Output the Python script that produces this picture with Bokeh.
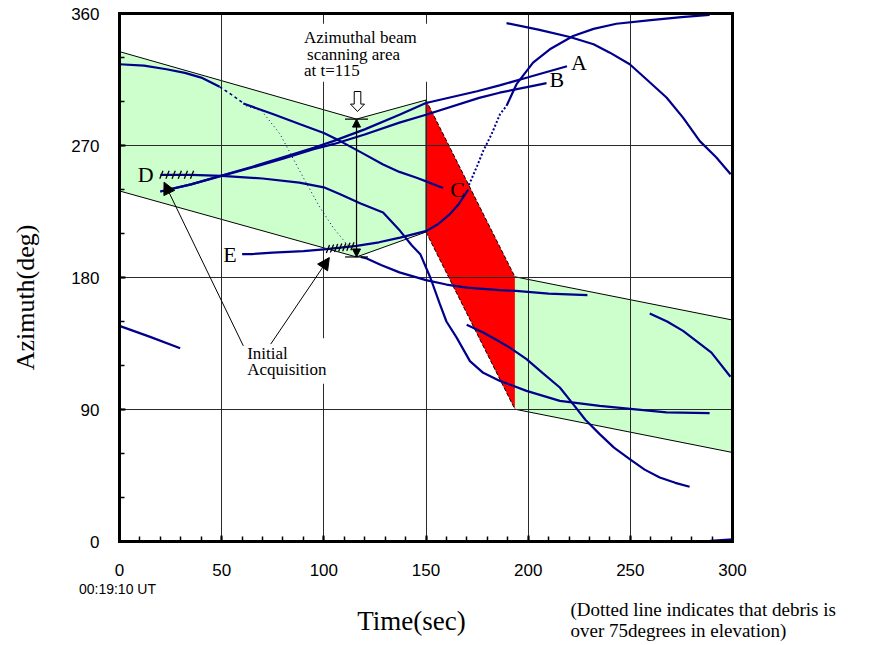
import numpy as np
from bokeh.plotting import figure
from bokeh.models import (Range1d, FixedTicker, Label, Arrow, NormalHead, BoxAnnotation,
                          LinearAxis, Grid)
from bokeh.embed import file_html
from bokeh.resources import INLINE

# ---------------- data ----------------
x_ticks = [0, 50, 100, 150, 200, 250, 300]
y_ticks = [0, 90, 180, 270, 360]
x_minor = list(range(0, 301, 10))
y_minor = list(range(0, 361, 30))
x_grid = [50, 100, 150, 200, 250]
y_grid = [90, 180, 270]

# beam scanning band (green) before and after the red transition
upper_band_t = [0, 116, 150]
upper_band_top = [334, 288, 301]
upper_band_bot = [239, 194, 211]
lower_band_t = [193.5, 300]
lower_band_top = [180.5, 151]
lower_band_bot = [90.2, 60.7]

# debris tracks (time sec, azimuth deg)
trk1_a_t = [0, 12, 23, 32, 40, 49]
trk1_a_az = [325.4, 324.5, 322, 319.5, 316.3, 310]
trk1_dash_t = [49, 55, 60.5]
trk1_dash_az = [310, 304.5, 299]
trk1_dot_t = [62, 69.6, 78.6, 90, 98.1, 104.6, 111.2, 118]
trk1_dot_az = [297, 293.6, 277.7, 248, 227.7, 214, 202.7, 194]
trk1_b_t = [118, 121, 128, 137, 150, 160, 170, 186, 194, 210, 229]
trk1_b_az = [194, 193, 188.5, 183.5, 178.2, 175.2, 173.1, 171.4, 170.9, 169, 168]

trkC_t = [60.6, 75, 88.4, 100, 108, 118, 129, 137, 145.4, 152, 158.4]
trkC_az = [298.6, 291.5, 284.5, 278.5, 273, 265.5, 257, 252, 248, 244.5, 241]

trkD_t = [20, 35, 50, 70, 88, 100, 108, 118, 129, 137.3, 143, 147.2, 152.1, 156.8,
          160, 165, 171.5, 178, 186.2, 199.2, 215.5, 235, 251.3, 267.7, 288.8]
trkD_az = [250, 250, 249.3, 247.5, 244.7, 241.5, 236.8, 230.5, 224.3, 211.8, 202, 195.9, 180,
           161.8, 150, 139, 123, 115, 109.5, 102.7, 95.9, 92.5, 90.3, 88, 87.5]

trkE_a_t = [60, 65, 75, 90, 101.4, 116, 127, 137.3, 150.3, 156, 161.7, 166, 170.7]
trkE_a_az = [196, 196, 197, 198, 199.3, 201.6, 204, 207.2, 211.8, 216.5, 223.2, 230, 240]
trkE_dot_t = [171, 175, 178, 182.1, 186.2, 189.4]
trkE_dot_az = [243, 256, 266.3, 277.7, 291.3, 297]
trkE_b_t = [189.4, 194.3, 202.4, 210.6, 222, 232, 243.2, 260, 275, 288.8]
trkE_b_az = [297, 311.8, 326.5, 335.6, 344.7, 349.5, 353, 355.5, 357.5, 359]

trkA_t = [20, 35, 50, 65, 80, 95, 104.6, 120, 137, 150, 175, 186, 200, 219]
trkA_az = [238.6, 243.5, 249.5, 255.5, 262, 268.5, 273, 281, 291, 299, 307, 311, 316.5, 324]
trkB_t = [20, 35, 50, 65, 80, 95, 104.6, 120, 137, 150, 176, 186, 200, 209]
trkB_az = [238.6, 243.5, 249.3, 255, 261, 267.5, 270.9, 277.5, 285.6, 291, 302.5, 306, 310, 312.5]

trkL_t = [0, 15, 29.7]
trkL_az = [147, 139.5, 131.8]

trkTR_t = [189.4, 205, 220.4, 232, 240, 249.7, 258, 267.7, 275.8, 284, 292, 299.1]
trkTR_az = [353.4, 349, 344, 339, 333.3, 325.4, 315, 302.7, 289, 273, 262, 250.4]

trkLR_t = [259.5, 268, 275.8, 283, 289.7, 299]
trkLR_az = [155.4, 150, 143.6, 136, 128.8, 112.3]

trk7_t = [169.9, 178, 185, 191, 199.2, 207, 215.5, 222, 228, 235, 242, 249.7, 257, 264.4, 272, 279]
trk7_az = [147.7, 142.5, 137, 132.2, 124.3, 115, 105, 93.7, 83, 73.2, 64, 56.2, 49, 43.6, 40, 37.3]

trkBot_t = [289, 300]
trkBot_az = [0.5, 1.5]

# initial-acquisition hatch marks
hatchD_t = [20.5, 23.5, 26.5, 29.5, 32.5, 35.5]
hatchD_az = [250, 250, 250, 250, 250, 250]
hatchE_t = [102, 104, 106, 108, 110, 112, 114]
hatchE_az = [199.5, 199.8, 200.1, 200.4, 200.7, 201, 201.3]

# ---------------- geometry of the page ----------------
W, H = 880, 644
PX_T = 613.0 / 300.0      # pixels per second
PX_AZ = 528.0 / 360.0     # pixels per degree
X0_PX, Y0_PX = 119.0, 541.0   # where t=0 / az=0 fall on the page
x_start = -X0_PX / PX_T
x_end = (W - X0_PX) / PX_T
y_start = -(H - Y0_PX) / PX_AZ
y_end = Y0_PX / PX_AZ

NAVY = "#00008C"
SERIF = "Liberation Serif"
SANS = "Liberation Sans"

p = figure(width=W, height=H,
           x_range=Range1d(x_start, x_end), y_range=Range1d(y_start, y_end),
           x_axis_type=None, y_axis_type=None,
           output_backend="svg", toolbar_location=None, min_border=0,
           background_fill_color="white", border_fill_color="white")
p.outline_line_color = None

def style_axis(ax):
    ax.axis_line_width = 3
    ax.axis_line_color = "black"
    ax.axis_line_cap = "square"
    ax.major_tick_in = 6
    ax.major_tick_out = 0
    ax.minor_tick_in = 5
    ax.minor_tick_out = 0
    ax.major_tick_line_width = 2
    ax.minor_tick_line_width = 1.5
    ax.major_label_text_font = SANS
    ax.major_label_text_font_size = "17px"
    ax.major_label_text_color = "black"

xax = LinearAxis(fixed_location=0, bounds=(0, 300),
                 ticker=FixedTicker(ticks=x_ticks, minor_ticks=x_minor))
style_axis(xax)
xax.major_label_standoff = 22
p.add_layout(xax, "below")

yax = LinearAxis(fixed_location=0, bounds=(0, 360),
                 ticker=FixedTicker(ticks=y_ticks, minor_ticks=y_minor))
style_axis(yax)
yax.major_label_standoff = 20
p.add_layout(yax, "left")

tax = LinearAxis(fixed_location=360, bounds=(0, 300), ticker=FixedTicker(ticks=[]))
style_axis(tax)
p.add_layout(tax, "above")
rax = LinearAxis(fixed_location=300, bounds=(0, 360), ticker=FixedTicker(ticks=[]))
style_axis(rax)
p.add_layout(rax, "right")

# grid lines limited to the plotting area
GRID_COLOR = "#2a2a2a"
if "cross_bounds" in Grid.properties():
    p.add_layout(Grid(dimension=0, ticker=FixedTicker(ticks=x_grid), bounds=(0, 300),
                      cross_bounds=(0, 360), grid_line_color=GRID_COLOR, grid_line_width=1))
    p.add_layout(Grid(dimension=1, ticker=FixedTicker(ticks=y_grid), bounds=(0, 360),
                      cross_bounds=(0, 300), grid_line_color=GRID_COLOR, grid_line_width=1))
else:
    p.segment(x_grid, [0] * len(x_grid), x_grid, [360] * len(x_grid),
              line_color=GRID_COLOR, line_width=1, level="underlay")
    p.segment([0] * len(y_grid), y_grid, [300] * len(y_grid), y_grid,
              line_color=GRID_COLOR, line_width=1, level="underlay")

# ---- bands ----
up_x = upper_band_t + upper_band_t[::-1]
up_y = upper_band_top + upper_band_bot[::-1]
p.patch(up_x, up_y, fill_color="#CCFFCC", line_color="black", line_width=1, level="image")

lo_x = lower_band_t + lower_band_t[::-1]
lo_y = lower_band_top + lower_band_bot[::-1]
p.patch(lo_x, lo_y, fill_color="#CCFFCC", line_color=None, level="image")
p.line(lower_band_t, lower_band_top, line_color="black", line_width=1, level="image")
p.line(lower_band_t, lower_band_bot, line_color="black", line_width=1, level="image")

red_t = [upper_band_t[-1], lower_band_t[0]]
red_top = [upper_band_top[-1], lower_band_top[0]]
red_bot = [upper_band_bot[-1], lower_band_bot[0]]
p.patch(red_t + red_t[::-1], red_top + red_bot[::-1], fill_color="#FF0000",
        line_color=None, level="image")
p.line(red_t, red_top, line_color="black", line_width=1, line_dash="4 2", level="image")
p.line(red_t, red_bot, line_color="black", line_width=1, line_dash="4 2", level="image")

# ---- tracks ----
solid = [(trk1_a_t, trk1_a_az), (trk1_b_t, trk1_b_az), (trkC_t, trkC_az),
         (trkD_t, trkD_az), (trkE_a_t, trkE_a_az), (trkE_b_t, trkE_b_az),
         (trkA_t, trkA_az), (trkB_t, trkB_az), (trkL_t, trkL_az),
         (trkTR_t, trkTR_az), (trkLR_t, trkLR_az), (trk7_t, trk7_az),
         (trkBot_t, trkBot_az)]
for xs, ys in solid:
    p.line(xs, ys, line_color=NAVY, line_width=2.2)
p.line(trk1_dash_t, trk1_dash_az, line_color=NAVY, line_width=1.6, line_dash="3 3")
p.line(trk1_dot_t, trk1_dot_az, line_color=NAVY, line_width=1, line_dash="1 3")
p.line(trkE_dot_t, trkE_dot_az, line_color=NAVY, line_width=2, line_dash="2 2")

# hatch marks (screen-size strokes converted to data units)
def hatch(ts, azs):
    x0 = [t - 1.6 / PX_T for t in ts]
    x1 = [t + 1.6 / PX_T for t in ts]
    y0 = [a - 4 / PX_AZ for a in azs]
    y1 = [a + 4 / PX_AZ for a in azs]
    p.segment(x0, y0, x1, y1, line_color="black", line_width=1.3)
hatch(hatchD_t, hatchD_az)
hatch(hatchE_t, hatchE_az)

# ---- beam scanning annotation at t=115 ----
tb = upper_band_t[1]
cap = 11.5 / PX_T
p.segment([tb - cap, tb - cap], [upper_band_top[1], upper_band_bot[1]],
          [tb + cap, tb + cap], [upper_band_top[1], upper_band_bot[1]],
          line_color="black", line_width=1.2)
p.add_layout(Arrow(start=NormalHead(size=8, fill_color="black", line_color="black"),
                   end=NormalHead(size=8, fill_color="black", line_color="black"),
                   x_start=tb, y_start=upper_band_bot[1], x_end=tb, y_end=upper_band_top[1],
                   line_color="black", line_width=1.2))

# hollow block arrow
cx = tb + 1.0 / PX_T
top_az = upper_band_top[1] + 27.6 / PX_AZ
neck_az = upper_band_top[1] + 15.0 / PX_AZ
tip_az = upper_band_top[1] + 7.6 / PX_AZ
sw, hw = 3.3 / PX_T, 7.0 / PX_T
bx = [cx - sw, cx + sw, cx + sw, cx + hw, cx, cx - hw, cx - sw]
by = [top_az, top_az, neck_az, neck_az, tip_az, neck_az, neck_az]
p.patch(bx, by, fill_color="white", line_color="black", line_width=1)

# white boxes behind texts (hide grid)
p.add_layout(BoxAnnotation(left=88, right=153, bottom=313.5, top=353, fill_color="white",
                           fill_alpha=1, line_alpha=0))
p.add_layout(BoxAnnotation(left=62, right=106.5, bottom=107.5, top=138.5, fill_color="white",
                           fill_alpha=1, line_alpha=0))

def lab(x, y, text, size, font=SERIF, align="left", baseline="middle", angle=0):
    p.add_layout(Label(x=x, y=y, text=text, text_font=font, text_font_size=size,
                       text_align=align, text_baseline=baseline, angle=angle,
                       text_color="black"))

lab(90.3, 343.4, "Azimuthal beam", "17px")
lab(91.8, 332.3, "scanning area", "17px")
lab(90.3, 320.9, "at t=115", "17px")

lab(62.5, 128.3, "Initial", "17px")
lab(62.5, 117.0, "Acquisition", "17px")

# arrows to initial acquisition points
p.add_layout(Arrow(end=NormalHead(size=12, fill_color="black", line_color="black"),
                   x_start=60.6, y_start=133.4, x_end=21.8, y_end=245,
                   line_color="black", line_width=1))
p.add_layout(Arrow(end=NormalHead(size=12, fill_color="black", line_color="black"),
                   x_start=74, y_start=134.6, x_end=102.7, y_end=193.6,
                   line_color="black", line_width=1))

# track letters
lab(224.8, 326.3, "A", "22px", align="center")
lab(214.0, 314.7, "B", "22px", align="center")
lab(165.4, 239.7, "C", "22px", align="center")
lab(12.8, 250.0, "D", "22px", align="center")
lab(54.1, 195.4, "E", "22px", align="center")

# axis titles and notes (placed in data units below / left of the plotting area)
lab(142.9, -53.9, "Time(sec)", "27px", align="center")
lab(-46.0, 166.4, "Azimuth(deg)", "26px", align="center", angle=np.pi / 2)
lab(-1.0, -32.7, "00:19:10 UT", "14px", font=SANS, align="center")
lab(220.7, -46.4, "(Dotted line indicates that debris is", "19px")
lab(220.7, -60.7, "over 75degrees in elevation)", "19px")

open("out.html", "w").write(file_html(p, INLINE))
